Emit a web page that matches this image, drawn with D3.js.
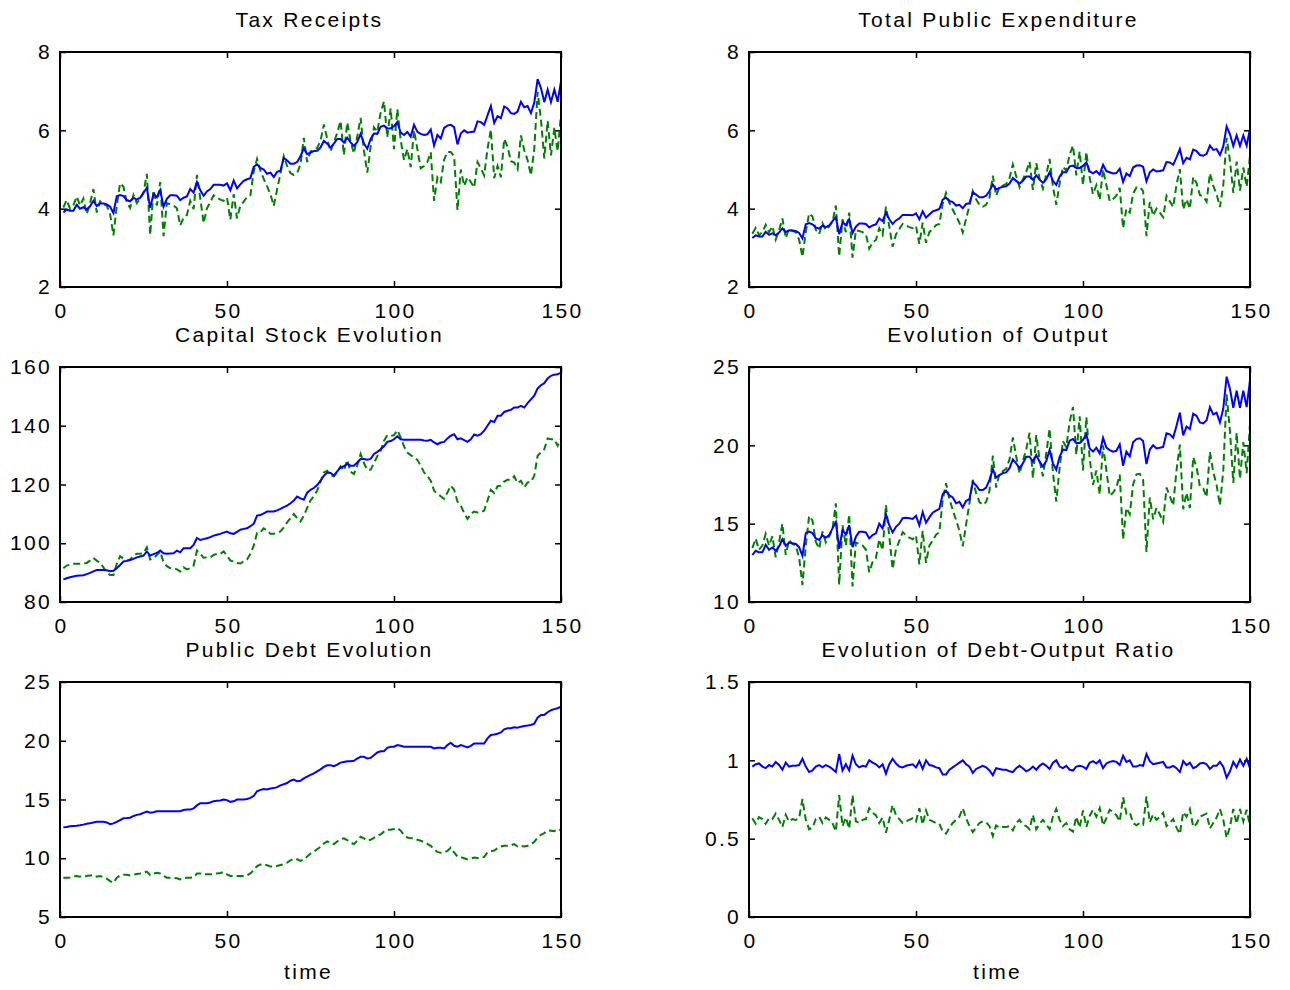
<!DOCTYPE html>
<html>
<head>
<meta charset="utf-8">
<script src="https://cdn.jsdelivr.net/npm/d3@7"></script>
<style>
  html, body { margin: 0; padding: 0; background: #fff; }
  svg text { font-family: "Liberation Sans", Arial, Helvetica, sans-serif; }
</style>
</head>
<body>
<svg id="fig" width="1290" height="990"></svg>
<script>
// Simulated fiscal series, t = 1..150 (blue = solid, green = dashed)
const time = d3.range(1, 151);
const xTicks = [0, 50, 100, 150];

const taxBlue = [3.90,3.98,3.95,3.95,4.10,4.00,4.04,3.98,4.06,4.20,
4.07,4.14,4.13,4.11,4.05,3.89,4.32,4.35,4.32,4.22,
4.19,4.28,4.23,4.28,4.41,4.53,4.02,4.38,4.29,4.47,
4.05,4.25,4.34,4.34,4.33,4.22,4.28,4.31,4.50,4.41,
4.68,4.47,4.33,4.44,4.50,4.61,4.61,4.61,4.59,4.65,
4.47,4.72,4.52,4.62,4.71,4.75,4.78,5.07,5.13,5.04,
5.00,4.89,4.92,4.81,4.94,4.97,5.30,5.23,5.15,5.15,
5.19,5.34,5.54,5.39,5.43,5.47,5.48,5.56,5.73,5.66,
5.56,5.66,5.78,5.78,5.69,5.81,5.69,5.60,5.70,5.91,
5.66,5.53,5.78,5.92,5.91,6.09,6.12,6.05,6.05,6.11,
6.21,5.94,5.88,5.96,5.84,6.14,5.96,5.91,5.88,5.90,
6.02,5.61,5.88,5.79,6.06,6.12,6.14,6.08,5.64,5.92,
6.00,5.94,5.96,5.97,6.23,6.21,6.14,6.38,6.62,6.19,
6.36,6.31,6.61,6.56,6.44,6.42,6.48,6.73,6.59,6.62,
6.44,6.71,7.31,7.08,6.72,7.04,6.72,7.04,6.73,7.25];
const taxGreen = [4.03,4.22,4.00,4.08,4.31,4.08,4.26,3.86,4.14,4.50,
3.90,4.19,4.11,4.08,3.86,3.32,4.08,4.65,4.56,4.16,
4.02,4.35,4.14,4.26,4.40,4.89,3.33,4.47,4.08,4.68,
3.30,4.14,4.11,4.08,4.01,3.57,3.77,3.84,4.20,3.99,
4.86,4.26,3.63,4.01,4.17,4.34,4.28,4.23,4.20,4.28,
3.72,4.37,3.75,4.08,4.18,4.29,4.34,4.95,5.27,4.97,
4.76,4.57,4.37,4.07,4.49,4.89,5.34,5.09,4.91,4.86,
4.91,5.13,5.81,5.19,5.46,5.51,5.55,5.73,6.15,5.79,
5.46,5.70,5.93,6.24,5.37,6.20,5.72,5.41,5.84,6.32,
5.48,4.92,5.57,6.08,5.96,6.45,6.74,5.82,6.56,5.52,
6.54,5.75,5.24,5.52,5.06,6.00,5.52,5.03,5.09,5.19,
5.44,4.20,4.80,4.68,5.25,5.45,5.45,5.34,3.96,5.00,
4.58,4.80,4.68,4.54,5.19,5.03,4.85,5.53,6.02,4.78,
5.09,4.80,5.78,5.58,5.21,5.18,5.01,5.87,5.49,5.24,
4.85,5.52,6.98,6.27,5.28,6.24,5.36,6.06,5.47,6.41];

const expBlue = [3.25,3.32,3.29,3.29,3.41,3.33,3.37,3.32,3.39,3.50,
3.40,3.45,3.44,3.43,3.38,3.24,3.60,3.63,3.60,3.52,
3.49,3.57,3.53,3.57,3.68,3.78,3.35,3.65,3.58,3.73,
3.38,3.54,3.62,3.62,3.61,3.52,3.57,3.60,3.75,3.68,
3.90,3.73,3.61,3.70,3.75,3.84,3.84,3.84,3.83,3.88,
3.73,3.93,3.77,3.85,3.93,3.96,3.99,4.23,4.28,4.20,
4.17,4.08,4.10,4.01,4.12,4.14,4.41,4.36,4.29,4.29,
4.33,4.45,4.62,4.49,4.53,4.56,4.57,4.64,4.78,4.71,
4.64,4.71,4.82,4.82,4.74,4.85,4.74,4.66,4.75,4.93,
4.71,4.61,4.82,4.93,4.93,5.08,5.10,5.04,5.04,5.09,
5.18,4.95,4.90,4.96,4.87,5.12,4.96,4.93,4.90,4.91,
5.02,4.68,4.90,4.83,5.05,5.10,5.11,5.07,4.70,4.93,
5.00,4.95,4.96,4.98,5.19,5.18,5.12,5.31,5.52,5.16,
5.30,5.26,5.51,5.47,5.37,5.35,5.40,5.61,5.50,5.52,
5.37,5.59,6.10,5.90,5.60,5.87,5.60,5.87,5.61,6.04];
const expGreen = [3.36,3.51,3.33,3.40,3.59,3.40,3.55,3.21,3.45,3.75,
3.25,3.49,3.43,3.40,3.21,2.77,3.40,3.88,3.80,3.46,
3.35,3.63,3.45,3.55,3.66,4.08,2.78,3.73,3.40,3.90,
2.75,3.45,3.43,3.40,3.34,2.98,3.14,3.20,3.50,3.33,
4.05,3.55,3.03,3.34,3.48,3.61,3.57,3.53,3.50,3.56,
3.10,3.64,3.13,3.40,3.48,3.58,3.61,4.13,4.40,4.15,
3.97,3.81,3.64,3.39,3.74,4.08,4.45,4.24,4.10,4.05,
4.10,4.28,4.84,4.33,4.55,4.59,4.63,4.78,5.13,4.83,
4.55,4.75,4.94,5.20,4.48,5.16,4.77,4.51,4.87,5.27,
4.56,4.10,4.64,5.07,4.97,5.38,5.61,4.85,5.46,4.60,
5.45,4.79,4.37,4.60,4.22,5.00,4.60,4.19,4.25,4.33,
4.53,3.50,4.00,3.90,4.38,4.54,4.55,4.45,3.30,4.17,
3.82,4.00,3.90,3.78,4.33,4.19,4.04,4.61,5.01,3.98,
4.24,4.00,4.81,4.65,4.35,4.31,4.18,4.90,4.58,4.37,
4.04,4.60,5.81,5.23,4.40,5.20,4.46,5.05,4.56,5.34];

const capitalBlue = [87.7,88.1,88.45,88.7,88.9,89.0,89.1,89.5,89.9,90.4,
90.9,90.9,90.9,90.8,90.5,90.6,91.5,92.6,93.8,94.0,
94.3,94.7,95.2,95.5,95.8,97.2,95.8,96.3,96.7,97.5,
96.6,96.4,96.5,96.6,97.5,96.9,98.3,98.3,98.3,99.4,
101.8,101.1,101.4,101.7,102.1,102.6,102.9,103.2,103.6,104.0,
103.4,103.2,103.9,104.6,104.9,105.1,105.8,106.6,109.4,109.6,
110.2,110.8,110.8,110.8,111.2,111.7,112.3,112.8,113.6,114.5,
115.9,115.3,114.8,117.2,118.2,118.8,119.8,121.3,123.0,124.1,
123.9,123.0,124.5,125.8,126.2,127.0,126.4,126.4,127.5,128.7,
128.7,128.4,128.7,130.4,131.1,132.0,133.0,134.5,134.8,135.4,
136.4,135.4,135.2,135.2,135.2,135.2,135.2,135.2,135.0,134.9,
135.2,134.3,133.7,134.3,134.5,135.7,136.6,137.1,135.4,135.7,
135.1,134.5,135.4,137.0,136.6,137.1,138.3,140.0,141.7,141.3,
143.4,143.4,144.7,145.1,145.4,146.2,146.2,146.8,146.2,147.7,
149.0,150.2,152.7,153.8,154.5,156.1,157.0,157.4,157.5,158.1];
const capitalGreen = [91.5,92.4,92.7,93.0,93.0,93.0,93.1,93.3,94.1,95.0,
94.1,93.3,91.8,90.1,89.2,89.2,93.0,95.6,94.7,94.1,
94.5,95.8,96.4,96.4,96.7,98.6,94.5,94.9,96.0,97.2,
93.5,92.2,91.5,91.5,91.1,90.4,91.8,91.1,91.5,92.4,
97.5,96.4,95.1,95.2,95.2,96.0,96.4,96.4,97.2,95.8,
94.1,93.8,93.3,93.1,93.8,94.5,96.4,99.2,103.5,103.7,
105.1,104.3,103.2,103.2,103.5,104.0,105.4,107.1,108.5,110.0,
108.5,107.4,109.4,112.0,114.6,116.0,117.9,121.0,124.1,124.7,
123.2,122.8,124.3,126.2,124.7,128.4,124.3,123.6,126.4,130.4,
127.3,125.0,125.0,127.3,129.6,131.5,134.9,136.8,136.6,136.8,
138.5,136.0,133.0,130.9,130.0,129.2,128.4,126.4,124.1,122.8,
121.3,117.9,116.8,116.0,115.1,117.3,119.6,118.2,114.2,112.8,
110.3,108.3,110.0,110.8,110.5,110.5,111.1,114.5,118.2,117.1,
119.4,119.6,121.0,121.6,121.6,122.8,120.5,121.3,119.0,120.7,
120.9,123.0,129.8,130.9,132.0,135.7,135.4,135.4,133.2,135.7];

const outputBlue = [13.0,13.27,13.17,13.17,13.65,13.33,13.48,13.27,13.54,14.0,
13.58,13.8,13.75,13.7,13.5,12.95,14.4,14.5,14.4,14.06,
13.96,14.27,14.1,14.27,14.7,15.1,13.4,14.6,14.3,14.9,
13.5,14.17,14.48,14.48,14.44,14.06,14.27,14.38,15.0,14.7,
15.6,14.9,14.44,14.8,15.0,15.35,15.37,15.35,15.3,15.5,
14.9,15.73,15.06,15.4,15.7,15.83,15.94,16.9,17.1,16.8,
16.67,16.3,16.4,16.04,16.46,16.56,17.65,17.44,17.15,17.15,
17.3,17.8,18.48,17.95,18.1,18.23,18.27,18.54,19.1,18.85,
18.54,18.85,19.27,19.27,18.96,19.38,18.96,18.65,19.0,19.7,
18.85,18.44,19.27,19.73,19.7,20.3,20.4,20.15,20.15,20.35,
20.7,19.8,19.6,19.85,19.48,20.48,19.85,19.7,19.6,19.65,
20.06,18.7,19.6,19.3,20.2,20.4,20.45,20.27,18.8,19.73,
20.0,19.8,19.85,19.9,20.77,20.7,20.48,21.25,22.08,20.63,
21.2,21.04,22.02,21.88,21.46,21.4,21.6,22.44,21.98,22.08,
21.46,22.35,24.38,23.6,22.4,23.48,22.4,23.48,22.44,24.17];
const outputGreen = [13.44,14.05,13.33,13.6,14.35,13.6,14.2,12.85,13.8,15.0,
13.0,13.95,13.7,13.6,12.85,11.08,13.6,15.5,15.2,13.85,
13.4,14.5,13.8,14.2,14.65,16.3,11.1,14.9,13.6,15.6,
11.0,13.8,13.7,13.6,13.35,11.9,12.55,12.8,14.0,13.3,
16.2,14.2,12.1,13.35,13.9,14.45,14.27,14.1,14.0,14.25,
12.4,14.55,12.5,13.6,13.93,14.3,14.45,16.5,17.58,16.58,
15.87,15.23,14.55,13.55,14.95,16.3,17.8,16.95,16.38,16.2,
16.38,17.1,19.35,17.3,18.2,18.35,18.5,19.1,20.5,19.3,
18.2,19.0,19.75,20.8,17.9,20.65,19.06,18.03,19.48,21.07,
18.25,16.4,18.55,20.27,19.88,21.5,22.45,19.4,21.85,18.4,
21.8,19.15,17.48,18.4,16.86,20.0,18.4,16.77,16.98,17.3,
18.13,14.0,16.0,15.6,17.5,18.15,18.18,17.8,13.2,16.67,
15.28,16.0,15.6,15.12,17.3,16.75,16.16,18.42,20.05,15.92,
16.97,16.0,19.25,18.6,17.38,17.25,16.7,19.58,18.3,17.46,
16.17,18.4,23.25,20.9,17.6,20.8,17.85,20.2,18.23,21.35];

const debtBlue = [12.63,12.66,12.72,12.75,12.77,12.8,12.86,12.94,12.97,13.05,
13.1,13.1,13.1,13.05,12.9,12.97,13.1,13.25,13.4,13.42,
13.45,13.6,13.69,13.75,13.86,13.97,13.88,13.92,14.0,14.0,
14.0,14.0,14.0,14.0,14.0,14.0,14.1,14.14,14.14,14.25,
14.5,14.69,14.69,14.69,14.75,14.86,14.9,14.92,15.0,14.95,
14.8,14.85,15.0,15.0,15.0,15.05,15.14,15.3,15.7,15.82,
15.89,15.85,15.94,15.97,16.05,16.2,16.3,16.4,16.6,16.69,
16.55,16.6,16.8,16.95,17.1,17.23,17.4,17.57,17.77,17.91,
17.91,17.83,17.97,18.14,18.2,18.26,18.26,18.29,18.49,18.63,
18.63,18.49,18.54,18.77,19.0,19.11,19.11,19.4,19.49,19.49,
19.63,19.57,19.49,19.49,19.49,19.49,19.49,19.49,19.49,19.49,
19.49,19.34,19.4,19.4,19.34,19.63,19.83,19.57,19.49,19.63,
19.54,19.43,19.57,19.77,19.77,19.77,19.77,20.2,20.49,20.54,
20.6,20.71,20.97,21.06,21.06,21.14,21.11,21.2,21.26,21.29,
21.34,21.46,21.97,22.2,22.2,22.43,22.6,22.69,22.77,22.91];
const debtGreen = [8.34,8.34,8.37,8.46,8.49,8.43,8.46,8.49,8.54,8.57,
8.43,8.49,8.37,8.26,8.06,7.91,8.34,8.54,8.6,8.6,
8.54,8.6,8.66,8.71,8.77,8.86,8.57,8.69,8.77,8.71,
8.49,8.34,8.34,8.34,8.29,8.2,8.31,8.34,8.34,8.37,
8.71,8.71,8.63,8.63,8.63,8.66,8.71,8.74,8.83,8.63,
8.49,8.49,8.49,8.49,8.49,8.54,8.71,9.0,9.34,9.46,
9.49,9.4,9.29,9.29,9.34,9.43,9.49,9.63,9.83,9.97,
9.91,9.77,9.91,10.14,10.4,10.57,10.77,10.97,11.26,11.43,
11.29,11.2,11.43,11.63,11.69,11.54,11.34,11.2,11.49,11.83,
11.69,11.49,11.57,11.74,11.91,12.03,12.26,12.43,12.43,12.49,
12.57,12.34,11.97,11.77,11.71,11.69,11.57,11.49,11.37,11.23,
11.06,10.77,10.54,10.46,10.49,10.63,10.91,10.49,10.14,10.09,
10.0,9.91,9.97,10.06,10.03,10.03,10.11,10.49,10.6,10.66,
10.86,11.0,11.06,11.06,11.11,11.2,11.0,11.06,11.0,11.06,
11.17,11.4,11.77,12.0,12.14,12.37,12.34,12.31,12.49,12.37];

const ratioBlue = [0.96,0.975,0.98,0.96,0.95,0.97,0.96,0.99,0.97,0.94,
0.985,0.96,0.965,0.965,0.97,1.01,0.96,0.925,0.935,0.96,
0.97,0.955,0.97,0.96,0.945,0.925,1.04,0.935,0.975,0.935,
1.03,0.975,0.955,0.965,0.96,1.0,0.985,0.975,0.955,0.975,
0.915,0.975,1.01,0.98,0.96,0.955,0.965,0.97,0.975,0.955,
0.995,0.945,1.0,0.97,0.965,0.955,0.95,0.91,0.91,0.94,
0.955,0.97,0.985,1.0,0.975,0.96,0.92,0.945,0.955,0.965,
0.955,0.935,0.905,0.95,0.945,0.94,0.94,0.93,0.925,0.95,
0.965,0.95,0.93,0.94,0.96,0.94,0.965,0.98,0.965,0.945,
0.985,1.0,0.96,0.95,0.965,0.94,0.935,0.96,0.965,0.96,
0.945,0.985,0.995,0.98,1.0,0.95,0.98,0.99,0.995,0.99,
0.97,1.03,0.99,1.0,0.96,0.96,0.97,0.965,1.04,0.995,
0.975,0.98,0.985,0.99,0.955,0.955,0.965,0.95,0.925,0.995,
0.97,0.985,0.95,0.96,0.98,0.985,0.975,0.945,0.965,0.965,
0.99,0.96,0.89,0.93,0.99,0.955,1.005,0.965,1.01,0.95];
const ratioGreen = [0.63,0.595,0.637,0.625,0.595,0.63,0.625,0.66,0.62,0.574,
0.652,0.61,0.625,0.62,0.63,0.753,0.62,0.56,0.57,0.625,
0.64,0.6,0.635,0.62,0.6,0.546,0.778,0.58,0.635,0.563,
0.778,0.61,0.6,0.62,0.625,0.694,0.665,0.65,0.6,0.635,
0.538,0.62,0.715,0.65,0.625,0.6,0.61,0.62,0.63,0.61,
0.694,0.59,0.68,0.62,0.61,0.6,0.595,0.545,0.532,0.57,
0.6,0.62,0.64,0.694,0.63,0.58,0.542,0.57,0.6,0.61,
0.605,0.58,0.517,0.585,0.57,0.575,0.575,0.58,0.553,0.6,
0.62,0.59,0.58,0.56,0.652,0.56,0.595,0.62,0.59,0.56,
0.64,0.69,0.62,0.58,0.6,0.56,0.545,0.64,0.57,0.68,
0.575,0.645,0.685,0.64,0.695,0.585,0.63,0.685,0.67,0.65,
0.61,0.764,0.66,0.67,0.6,0.585,0.6,0.59,0.77,0.605,
0.655,0.62,0.64,0.665,0.58,0.6,0.625,0.57,0.53,0.67,
0.64,0.69,0.575,0.595,0.64,0.65,0.66,0.565,0.6,0.635,
0.69,0.62,0.505,0.575,0.69,0.595,0.69,0.61,0.685,0.58];

// Panel definitions (row, col) -> series + y axis
const panels = [
  { title: 'Tax Receipts', row: 0, col: 0, blue: taxBlue, green: taxGreen, y: [2, 8], ticks: [2, 4, 6, 8] },
  { title: 'Total Public Expenditure', row: 0, col: 1, blue: expBlue, green: expGreen, y: [2, 8], ticks: [2, 4, 6, 8] },
  { title: 'Capital Stock Evolution', row: 1, col: 0, blue: capitalBlue, green: capitalGreen, y: [80, 160], ticks: [80, 100, 120, 140, 160] },
  { title: 'Evolution of Output', row: 1, col: 1, blue: outputBlue, green: outputGreen, y: [10, 25], ticks: [10, 15, 20, 25] },
  { title: 'Public Debt Evolution', row: 2, col: 0, blue: debtBlue, green: debtGreen, y: [5, 25], ticks: [5, 10, 15, 20, 25], xlabel: 'time' },
  { title: 'Evolution of Debt-Output Ratio', row: 2, col: 1, blue: ratioBlue, green: ratioGreen, y: [0, 1.5], ticks: [0, 0.5, 1, 1.5], xlabel: 'time' }
];

const svg = d3.select('#fig');
svg.append('rect').attr('width', 1290).attr('height', 990).attr('fill', '#fff');

const colLeft = [60, 749];
const rowTop = [52, 367, 682];
const W = 501, H = 235;
const fontSize = 21;
const spacing = '2.3px';

panels.forEach(p => {
  const g = svg.append('g')
    .attr('transform', 'translate(' + colLeft[p.col] + ',' + rowTop[p.row] + ')');

  const x = d3.scaleLinear().domain([0, 150]).range([0, W]);
  const y = d3.scaleLinear().domain(p.y).range([H, 0]);

  const styleAxis = ax => {
    ax.select('.domain').remove();
    ax.selectAll('line').attr('stroke', '#000').attr('stroke-width', 1.5);
    ax.selectAll('text').attr('font-size', fontSize).attr('fill', '#000')
      .attr('letter-spacing', spacing);
  };

  // inward ticks on all four sides
  g.append('g').attr('transform', 'translate(0,' + H + ')')
    .call(d3.axisBottom(x).tickValues(xTicks).tickSizeInner(-6).tickSizeOuter(0).tickPadding(16))
    .call(styleAxis)
    .call(ax => ax.selectAll('text').attr('dx', '1px'));
  g.append('g')
    .call(d3.axisTop(x).tickValues(xTicks).tickSizeInner(-6).tickSizeOuter(0).tickFormat(''))
    .call(styleAxis);
  g.append('g')
    .call(d3.axisLeft(y).tickValues(p.ticks).tickSizeInner(-6).tickSizeOuter(0).tickPadding(8).tickFormat(d3.format('~g')))
    .call(styleAxis);
  g.append('g').attr('transform', 'translate(' + W + ',0)')
    .call(d3.axisRight(y).tickValues(p.ticks).tickSizeInner(-6).tickSizeOuter(0).tickFormat(''))
    .call(styleAxis);

  const line = vals => d3.line().x((d, i) => x(time[i])).y(d => y(d))(vals);

  g.append('path').attr('d', line(p.green))
    .attr('fill', 'none').attr('stroke', '#008000').attr('stroke-width', 2)
    .attr('stroke-dasharray', '7,4');
  g.append('path').attr('d', line(p.blue))
    .attr('fill', 'none').attr('stroke', '#0000ff').attr('stroke-width', 2);

  // box
  g.append('rect').attr('width', W).attr('height', H)
    .attr('fill', 'none').attr('stroke', '#000').attr('stroke-width', 2);

  g.append('text')
    .attr('x', W / 2 - 1).attr('y', -25)
    .attr('text-anchor', 'middle').attr('font-size', fontSize)
    .attr('letter-spacing', spacing)
    .text(p.title);

  if (p.xlabel) {
    g.append('text')
      .attr('x', W / 2 - 2).attr('y', H + 62)
      .attr('text-anchor', 'middle').attr('font-size', fontSize)
      .attr('letter-spacing', spacing)
      .text(p.xlabel);
  }
});
</script>
</body>
</html>
